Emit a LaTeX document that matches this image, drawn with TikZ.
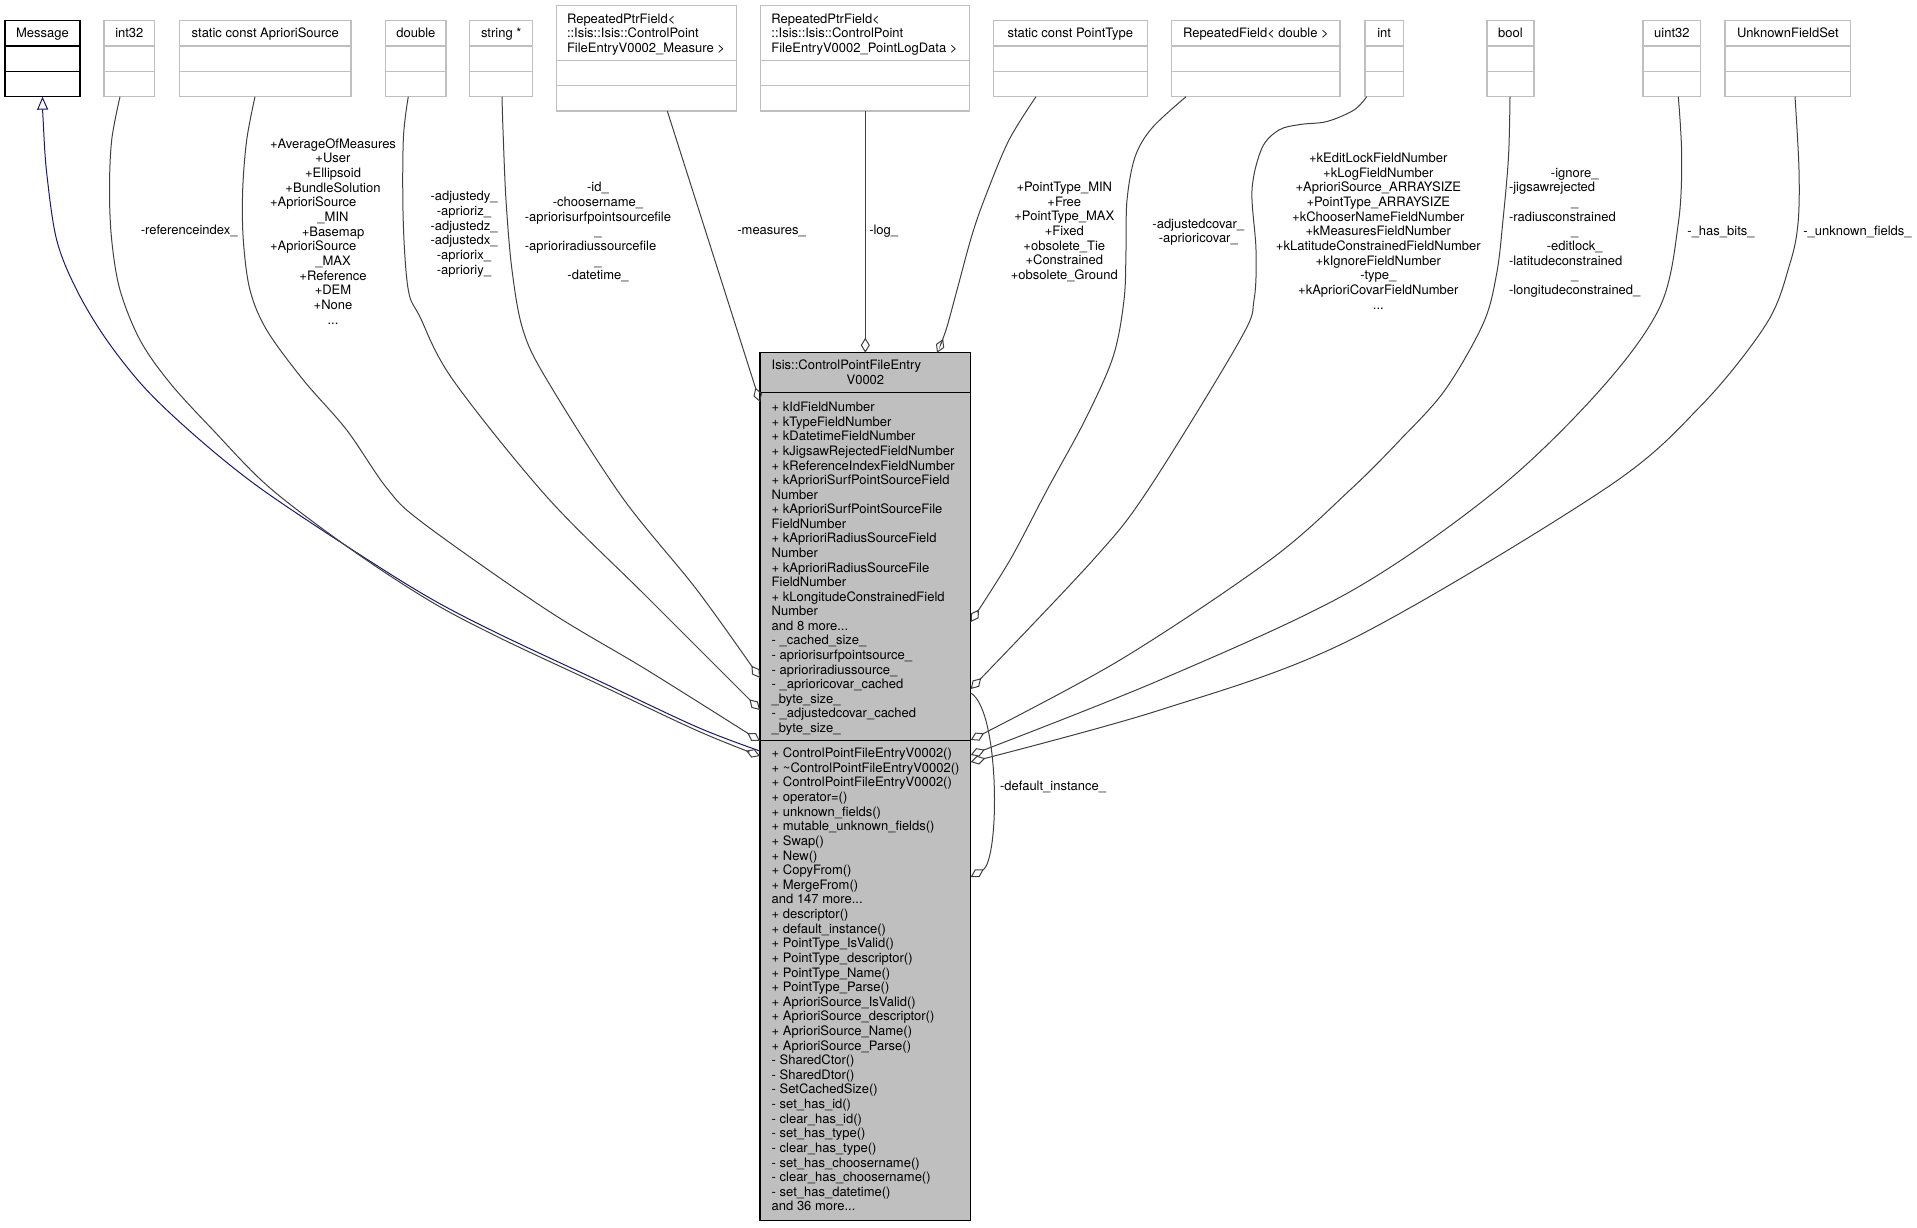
\documentclass[tikz,border=0pt]{standalone}
\usepackage{fontspec}
\setmainfont{TeX Gyre Heros}
\usetikzlibrary{arrows.meta}
\definecolor{edgegray}{HTML}{404040}
\definecolor{boxgray}{HTML}{BFBFBF}
\definecolor{inhblue}{HTML}{191970}
\definecolor{mainfill}{HTML}{BFBFBF}
\newcommand{\clines}[1]{\begin{tabular}[t]{@{}c@{}}#1\end{tabular}}
\newcommand{\llines}[1]{\begin{tabular}[t]{@{}l@{}}#1\end{tabular}}
\newcommand{\lft}[1]{\multicolumn{1}{@{}l@{}}{#1}}
\begin{document}
\begin{tikzpicture}[x=1pt,y=-1pt,
  every node/.style={inner sep=0pt, outer sep=0pt, font=\fontsize{13}{14.67}\selectfont},
  typebox/.style={draw=boxgray, line width=1.3pt, fill=white, anchor=north west, minimum height=76pt},
  typeboxtall/.style={typebox, minimum height=105.3pt},
  sepline/.style={draw=boxgray, line width=1.3pt},
  lbl/.style={anchor=base},
  lblw/.style={anchor=base west},
  edge/.style={draw=edgegray, line width=1pt, -{Diamond[open, length=15pt, width=9pt]}},
  inherit/.style={draw=inhblue, line width=1pt, {Triangle[open, length=13pt, width=11pt]}-}
]
\useasboundingbox (0,0) rectangle (1917,1227);

% ---------------- type boxes ----------------
\node[typebox, draw=black, minimum width=75pt] (msg) at (5,20.7) {};
\draw[line width=1.3pt] (5,46) -- (80,46) (5,71.3) -- (80,71.3);
\node[lbl] (msg-t) at (42.5,37.4) {Message};

\node[typebox, minimum width=50.7pt] (int32) at (104,20.7) {};
\draw[sepline] (104,46) -- (154.7,46) (104,71.3) -- (154.7,71.3);
\node[lbl] (int32-t) at (129.35,37.4) {int32};

\node[typebox, minimum width=171.4pt] (aps) at (179.6,20.7) {};
\draw[sepline] (179.6,46) -- (351,46) (179.6,71.3) -- (351,71.3);
\node[lbl] (aps-t) at (265.3,37.4) {static const AprioriSource};

\node[typebox, minimum width=60.3pt] (dbl) at (385.7,20.7) {};
\draw[sepline] (385.7,46) -- (446,46) (385.7,71.3) -- (446,71.3);
\node[lbl] (dbl-t) at (415.85,37.4) {double};

\node[typebox, minimum width=62.9pt] (str) at (469.8,20.7) {};
\draw[sepline] (469.8,46) -- (532.7,46) (469.8,71.3) -- (532.7,71.3);
\node[lbl] (str-t) at (501.25,37.4) {string *};

\node[typeboxtall, minimum width=180pt] (meas) at (556.3,5.7) {};
\draw[sepline] (556.3,60.3) -- (736.3,60.3) (556.3,85.7) -- (736.3,85.7);
\node[lblw] (meas-t) at (567,23) {\llines{RepeatedPtrField<\\::Isis::Isis::ControlPoint\\FileEntryV0002\_Measure >}};

\node[typeboxtall, minimum width=209.4pt] (plog) at (760.4,5.7) {};
\draw[sepline] (760.4,60.3) -- (969.8,60.3) (760.4,85.7) -- (969.8,85.7);
\node[lblw] (plog-t) at (771.4,23) {\llines{RepeatedPtrField<\\::Isis::Isis::ControlPoint\\FileEntryV0002\_PointLogData >}};

\node[typebox, minimum width=154pt] (ptype) at (993.3,20.7) {};
\draw[sepline] (993.3,46) -- (1147.3,46) (993.3,71.3) -- (1147.3,71.3);
\node[lbl] (ptype-t) at (1070.3,37.4) {static const PointType};

\node[typebox, minimum width=168.3pt] (rfd) at (1171.7,20.7) {};
\draw[sepline] (1171.7,46) -- (1340,46) (1171.7,71.3) -- (1340,71.3);
\node[lbl] (rfd-t) at (1255.85,37.4) {RepeatedField< double >};

\node[typebox, minimum width=38.3pt] (int) at (1365,20.7) {};
\draw[sepline] (1365,46) -- (1403.3,46) (1365,71.3) -- (1403.3,71.3);
\node[lbl] (int-t) at (1384.15,37.4) {int};

\node[typebox, minimum width=47pt] (bool) at (1487,20.7) {};
\draw[sepline] (1487,46) -- (1534,46) (1487,71.3) -- (1534,71.3);
\node[lbl] (bool-t) at (1510.5,37.4) {bool};

\node[typebox, minimum width=57.7pt] (u32) at (1643,20.7) {};
\draw[sepline] (1643,46) -- (1700.7,46) (1643,71.3) -- (1700.7,71.3);
\node[lbl] (u32-t) at (1671.85,37.4) {uint32};

\node[typebox, minimum width=125.7pt] (ufs) at (1725,20.7) {};
\draw[sepline] (1725,46) -- (1850.7,46) (1725,71.3) -- (1850.7,71.3);
\node[lbl] (ufs-t) at (1787.85,37.4) {UnknownFieldSet};

% ---------------- main class box ----------------
\node[draw=black, line width=1.3pt, fill=mainfill, anchor=north west,
      minimum width=210.7pt, minimum height=868pt] (main) at (760,352.7) {};
\draw[line width=1.3pt] (760,392.5) -- (970.7,392.5) (760,740.8) -- (970.7,740.8);
\node[lblw] (main-t1) at (771.7,369.7) {Isis::ControlPointFileEntry};
\node[lbl] (main-t2) at (865.4,384.4) {V0002};
\node[lblw, font=\fontsize{13}{14.58}\selectfont] (main-attr) at (771.7,411.7) {\llines{%
+ kIdFieldNumber\\
+ kTypeFieldNumber\\
+ kDatetimeFieldNumber\\
+ kJigsawRejectedFieldNumber\\
+ kReferenceIndexFieldNumber\\
+ kAprioriSurfPointSourceField\\
Number\\
+ kAprioriSurfPointSourceFile\\
FieldNumber\\
+ kAprioriRadiusSourceField\\
Number\\
+ kAprioriRadiusSourceFile\\
FieldNumber\\
+ kLongitudeConstrainedField\\
Number\\
and 8 more...\\
- \_cached\_size\_\\
- apriorisurfpointsource\_\\
- aprioriradiussource\_\\
- \_aprioricovar\_cached\\
\_byte\_size\_\\
- \_adjustedcovar\_cached\\
\_byte\_size\_}};
\node[lblw, font=\fontsize{13}{14.62}\selectfont] (main-meth) at (771.7,757.7) {\llines{%
+ ControlPointFileEntryV0002()\\
+ \textasciitilde ControlPointFileEntryV0002()\\
+ ControlPointFileEntryV0002()\\
+ operator=()\\
+ unknown\_fields()\\
+ mutable\_unknown\_fields()\\
+ Swap()\\
+ New()\\
+ CopyFrom()\\
+ MergeFrom()\\
and 147 more...\\
+ descriptor()\\
+ default\_instance()\\
+ PointType\_IsValid()\\
+ PointType\_descriptor()\\
+ PointType\_Name()\\
+ PointType\_Parse()\\
+ AprioriSource\_IsValid()\\
+ AprioriSource\_descriptor()\\
+ AprioriSource\_Name()\\
+ AprioriSource\_Parse()\\
- SharedCtor()\\
- SharedDtor()\\
- SetCachedSize()\\
- set\_has\_id()\\
- clear\_has\_id()\\
- set\_has\_type()\\
- clear\_has\_type()\\
- set\_has\_choosername()\\
- clear\_has\_choosername()\\
- set\_has\_datetime()\\
and 36 more...}};

% ---------------- connector end points ----------------
\coordinate (s-msg) at (42.5,96.7);   \coordinate (e-msg) at (760,751);
\coordinate (s-int32) at (120,96.7); \coordinate (e-int32) at (760,756);
\coordinate (s-aps) at (255,96.7);  \coordinate (e-aps) at (760,741);
\coordinate (s-dbl) at (408.3,96.7);  \coordinate (e-dbl) at (760,710);
\coordinate (s-str) at (502,96.7);  \coordinate (e-str) at (760,678);
\coordinate (s-meas) at (667.3,111); \coordinate (e-meas) at (760,402);
\coordinate (s-log) at (865.3,111); \coordinate (e-log) at (865.3,352.7);
\coordinate (s-pt) at (1036,96.7);  \coordinate (e-pt) at (937,352.7);
\coordinate (s-rfd) at (1186,96.7); \coordinate (e-rfd) at (970.7,622);
\coordinate (s-int) at (1366.7,96.7); \coordinate (e-int) at (970.7,689);
\coordinate (s-bool) at (1510,96.7); \coordinate (e-bool) at (970.7,740);
\coordinate (s-u32) at (1678.3,96.7); \coordinate (e-u32) at (970.7,755);
\coordinate (s-ufs) at (1795,96.7); \coordinate (e-ufs) at (970.7,762);
\coordinate (s-loop) at (970.7,693); \coordinate (e-loop) at (970.7,877);

% ---------------- connectors ----------------
\draw[inherit] plot[smooth, tension=0.55] coordinates {(s-msg) (43.3,123) (46.7,173) (56.7,240) (76.7,290) (106.7,340) (146.7,390) (200,440) (260,488) (348,547) (428,597) (497,633) (597,680) (697,727) (e-msg)};
\draw[edge] plot[smooth, tension=0.55] coordinates {(s-int32) (111.7,140) (109.5,190) (111.7,240) (120,290) (140,340) (170,383) (213,430) (270,488) (352,550) (430,601) (498,637) (598,684) (698,731) (e-int32)};
\draw[edge] plot[smooth, tension=0.55] coordinates {(s-aps) (246.7,140) (242.7,190) (243.3,240) (250,290) (266.7,330) (303.3,380) (346.7,430) (386.7,488) (423,523) (547,610) (647,670) (e-aps)};
\draw[edge] plot[smooth, tension=0.55] coordinates {(s-dbl) (403.3,140) (403.3,223) (408.3,290) (420,317) (453,380) (547,497) (647,597) (e-dbl)};
\draw[edge] plot[smooth, tension=0.55] coordinates {(s-str) (503,130) (506,200) (512,270) (523,330) (547,380) (622,497) (697,590) (e-str)};
\draw[edge] (s-meas) -- (e-meas);
\draw[edge] (s-log) -- (e-log);
\draw[edge] plot[smooth, tension=0.55] coordinates {(s-pt) (1009,140) (986,195) (972,235) (957,290) (946,330) (e-pt)};
\draw[edge] plot[smooth, tension=0.55] coordinates {(s-rfd) (1152,128) (1135,157) (1127,200) (1126,250) (1124,300) (1113,357) (1085,420) (1047,490) (1010,560) (e-rfd)};
\draw[edge] plot[smooth, tension=0.55] coordinates {(s-int) (1354,110) (1327,121.5) (1300,124.5) (1279,130) (1262,148) (1252,190) (1256,250) (1254,300) (1240,340) (1148,490) (1093,560) (e-int)};
\draw[edge] plot[smooth, tension=0.55] coordinates {(s-bool) (1508.5,156.7) (1503,220) (1496.7,273.3) (1483.3,323.3) (1445,390) (1400,440) (1350,490) (1270,560) (1120,660) (e-bool)};
\draw[edge] plot[smooth, tension=0.55] coordinates {(s-u32) (1681.7,156.7) (1678.3,223.3) (1660,306.7) (1600,390) (1496.7,490) (1350,591.7) (1160,680) (e-u32)};
\draw[edge] plot[smooth, tension=0.55] coordinates {(s-ufs) (1799,170) (1798,223.3) (1790,263.3) (1766.7,323.3) (1700,406.7) (1603.3,490) (1350,640) (1160,710) (e-ufs)};
\draw[edge] (s-loop) .. controls (1000,710) and (1000,860) .. (e-loop);

% ---------------- connector labels ----------------
\node[lbl] (l-int32) at (189.2,234.7) {-referenceindex\_};
\node[lbl] (l-aps) at (333,148) {\clines{+AverageOfMeasures\\+User\\+Ellipsoid\\+BundleSolution\\\lft{+AprioriSource}\\\_MIN\\+Basemap\\\lft{+AprioriSource}\\\_MAX\\+Reference\\+DEM\\+None\\...}};
\node[lbl] (l-dbl) at (464,200.7) {\clines{-adjustedy\_\\-aprioriz\_\\-adjustedz\_\\-adjustedx\_\\-apriorix\_\\-aprioriy\_}};
\node[lbl] (l-str) at (598,191.7) {\clines{-id\_\\-choosername\_\\-apriorisurfpointsourcefile\\\_\\\lft{-aprioriradiussourcefile}\\\_\\-datetime\_}};
\node[lbl] (l-meas) at (771.6,234.7) {-measures\_};
\node[lbl] (l-log) at (883.7,234.7) {-log\_};
\node[lbl] (l-pt) at (1064.3,191.4) {\clines{+PointType\_MIN\\+Free\\+PointType\_MAX\\+Fixed\\+obsolete\_Tie\\+Constrained\\+obsolete\_Ground}};
\node[lbl] (l-rfd) at (1198.3,228) {\clines{-adjustedcovar\_\\-aprioricovar\_}};
\node[lbl] (l-int) at (1378.3,162.4) {\clines{+kEditLockFieldNumber\\+kLogFieldNumber\\+AprioriSource\_ARRAYSIZE\\+PointType\_ARRAYSIZE\\+kChooserNameFieldNumber\\+kMeasuresFieldNumber\\+kLatitudeConstrainedFieldNumber\\+kIgnoreFieldNumber\\-type\_\\+kAprioriCovarFieldNumber\\...}};
\node[lbl] (l-bool) at (1574.7,177) {\clines{-ignore\_\\\lft{-jigsawrejected}\\\_\\\lft{-radiusconstrained}\\\_\\-editlock\_\\\lft{-latitudeconstrained}\\\_\\-longitudeconstrained\_}};
\node[lbl] (l-u32) at (1721,235.4) {-\_has\_bits\_};
\node[lbl] (l-ufs) at (1857.5,235.4) {-\_unknown\_fields\_};
\node[lblw] (l-loop) at (1000,790.7) {-default\_instance\_};
\end{tikzpicture}
\end{document}
